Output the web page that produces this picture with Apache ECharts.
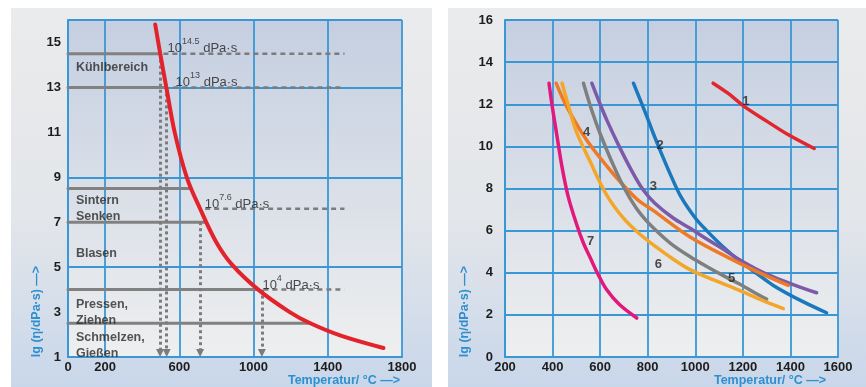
<!DOCTYPE html>
<html lang="de">
<head>
<meta charset="UTF-8">
<title>Viskosität von Gläsern</title>
<style>
  html, body { margin: 0; padding: 0; width: 100%; height: 100%; overflow: hidden; background: #fff; }
  #chart { width: 866px; height: 387px; }
</style>
<script src="https://cdn.jsdelivr.net/npm/echarts@6.0.0/dist/echarts.min.js"></script>
</head>
<body>
<div id="chart"></div>
<script>
// ---- linkes Diagramm: Viskosität eines Kalk-Natron-Glases ----
const kurveT  = [470, 497, 530, 575, 640, 712, 800, 885, 1025, 1195, 1306, 1470, 1700];
const kurveLg = [15.8, 14.5, 13, 11, 9, 7.6, 6.1, 5.1, 4, 3, 2.5, 1.95, 1.4];

// graue Bereichsgrenzen (von 0 °C bis zur Kurve)
const bereichLg   = [14.5, 13, 8.5, 7, 4, 2.5];
const bereichEndT = [487, 532, 654, 734, 1027, 1306];

// gestrichelte Bezugslinien
const bezugLg     = [14.5, 13, 7.6, 4];
const bezugStartT = [514, 568, 739, 1053];
const bezugEndT   = 1490;
const bezugExp    = ['14.5', '13', '7.6', '4'];
const bezugTextT  = [534, 577, 734, 1045];
const bezugTextLg = [14.85, 13.35, 7.9, 4.3];

// Pfeile nach unten
const pfeilT   = [496, 532, 712, 1045];
const pfeilTop = [14.5, 13, 7, 4];

const bereichNamen = ['Kühlbereich', 'Sintern\nSenken', 'Blasen', 'Pressen,\nZiehen', 'Schmelzen,\nGießen'];
const bereichTextLg = [13.9, 7.6, 5.6, 3.0, 1.5];

const linksXTicks = [0, 200, 600, 1000, 1400, 1800];

// ---- rechtes Diagramm: Gläser 1 bis 7 ----
const glas1T = [1075, 1140, 1205, 1300, 1384, 1500];
const glas1Lg = [13, 12.5, 11.9, 11.2, 10.6, 9.9];
const glas2T = [740, 790, 824, 860, 898, 940, 1000, 1048, 1120, 1188, 1260, 1328, 1440, 1552];
const glas2Lg = [13, 11.6, 10.6, 9.6, 8.6, 7.6, 6.6, 6.0, 5.2, 4.55, 3.95, 3.4, 2.7, 2.1];
const glas3T = [565, 600, 630, 680, 730, 780, 830, 907, 980, 1048, 1120, 1188, 1260, 1328, 1420, 1510];
const glas3Lg = [13, 12.0, 11.2, 10.0, 8.9, 7.95, 7.3, 6.6, 6.1, 5.6, 5.1, 4.6, 4.15, 3.8, 3.4, 3.05];
const glas4T = [415, 459, 543, 655, 754, 824, 978, 1160, 1280, 1391];
const glas4Lg = [13, 11.9, 10.3, 8.7, 7.5, 6.95, 5.7, 4.6, 3.95, 3.4];
const glas5T = [530, 565, 600, 650, 700, 750, 800, 850, 907, 980, 1048, 1120, 1188, 1250, 1300];
const glas5Lg = [13, 11.7, 10.6, 9.25, 8.05, 7.1, 6.4, 5.85, 5.3, 4.75, 4.3, 3.85, 3.45, 3.05, 2.75];
const glas6T = [440, 470, 500, 557, 627, 697, 760, 838, 900, 978, 1080, 1188, 1280, 1370];
const glas6Lg = [13, 11.8, 10.7, 9.3, 7.7, 6.6, 5.9, 5.2, 4.7, 4.15, 3.65, 3.15, 2.7, 2.3];
const glas7T = [385, 400, 417, 440, 466, 501, 530, 557, 590, 627, 680, 754];
const glas7Lg = [13, 11.8, 10.6, 9.0, 7.6, 6.3, 5.4, 4.75, 3.95, 3.2, 2.5, 1.85];

const glasFarben = ['#e0262e', '#1b78bd', '#7d5aa8', '#ee7a25', '#7f7f7f', '#f4a62a', '#e2197c'];
const glasNummerT  = [1213, 852, 824, 543, 1153, 845, 560];
const glasNummerLg = [12.12, 10.06, 8.08, 10.65, 3.73, 4.4, 5.47];

const blau = '#3a97d6';
const schrift = "'Liberation Sans', Arial, sans-serif";
const yName = 'lg (η/dPa·s) —>';
const xName = 'Temperatur/ °C —>';

const chart = echarts.init(document.getElementById('chart'));

const plotBg = {
  type: 'linear', x: 0, y: 0, x2: 0, y2: 1,
  colorStops: [{ offset: 0, color: '#c5cfe1' }, { offset: 1, color: '#eeefef' }]
};
const panelBg = {
  type: 'linear', x: 0, y: 0, x2: 0, y2: 1,
  colorStops: [{ offset: 0, color: '#eaebec' }, { offset: 0.55, color: '#e3e6ea' }, { offset: 1, color: '#c9d7ea' }]
};

function linie(xi, t, lg, color, width, type) {
  return {
    type: 'line', xAxisIndex: xi, yAxisIndex: xi, silent: true,
    data: t.map((x, i) => [x, lg[i]]),
    symbol: 'none', smooth: 0.35,
    lineStyle: { color: color, width: width, type: type || 'solid', cap: 'round' },
    z: 5
  };
}

const series = [];

// graue Bereichslinien
bereichLg.forEach((v, i) => {
  const s = linie(0, [0, bereichEndT[i]], [v, v], '#818181', 3);
  s.smooth = false; s.z = 3;
  series.push(s);
});
// gestrichelte Bezugslinien
bezugLg.forEach((v, i) => {
  const s = linie(0, [bezugStartT[i], bezugEndT], [v, v], '#7c7c7c', 2.5, [5, 4]);
  s.smooth = false; s.z = 3; s.lineStyle.cap = 'butt';
  series.push(s);
});
// Pfeile
series.push({
  type: 'line', xAxisIndex: 0, yAxisIndex: 0, data: [], silent: true,
  markLine: {
    silent: true, symbol: ['none', 'triangle'], symbolSize: 8,
    label: { show: false },
    lineStyle: { color: '#7c7c7c', width: 3, type: [3, 3] },
    data: pfeilT.map((t, i) => [{ coord: [t, pfeilTop[i]] }, { coord: [t, 1.18] }])
  }
});
// Viskositätskurve
series.push(linie(0, kurveT, kurveLg, '#e3232c', 4));
// Beschriftung Bezugslinien
series.push({
  type: 'scatter', xAxisIndex: 0, yAxisIndex: 0, silent: true,
  symbolSize: 1, itemStyle: { color: 'rgba(0,0,0,0)' },
  data: bezugTextT.map((t, i) => ({ value: [t, bezugTextLg[i]], name: bezugExp[i] })),
  label: {
    show: true, position: 'right', distance: 0,
    formatter: p => '{b|10}{s|' + p.name + '}{b| dPa·s}',
    rich: {
      b: { fontFamily: schrift, fontSize: 13, color: '#222', lineHeight: 18, verticalAlign: 'bottom' },
      s: { fontFamily: schrift, fontSize: 9, color: '#222', lineHeight: 10, verticalAlign: 'top' }
    }
  },
  z: 6
});
// Bereichsnamen
series.push({
  type: 'scatter', xAxisIndex: 0, yAxisIndex: 0, silent: true,
  symbolSize: 1, itemStyle: { color: 'rgba(0,0,0,0)' },
  data: bereichNamen.map((n, i) => ({ value: [40, bereichTextLg[i]], name: n })),
  label: {
    show: true, position: 'right', distance: 0, formatter: p => p.name,
    fontFamily: schrift, fontSize: 12.5, fontWeight: 'bold', color: '#2a2a2a', lineHeight: 16
  },
  z: 6
});

// rechte Kurven
const glasT = [glas1T, glas2T, glas3T, glas4T, glas5T, glas6T, glas7T];
const glasLg = [glas1Lg, glas2Lg, glas3Lg, glas4Lg, glas5Lg, glas6Lg, glas7Lg];
glasT.forEach((t, i) => series.push(linie(1, t, glasLg[i], glasFarben[i], 3.5)));
series.push({
  type: 'scatter', xAxisIndex: 1, yAxisIndex: 1, silent: true,
  symbolSize: 1, itemStyle: { color: 'rgba(0,0,0,0)' },
  data: glasNummerT.map((t, i) => ({ value: [t, glasNummerLg[i]], name: String(i + 1) })),
  label: {
    show: true, position: 'inside', formatter: p => p.name,
    fontFamily: schrift, fontSize: 13, fontWeight: 'bold', color: '#222'
  },
  z: 7
});

const tickLabel = { fontFamily: schrift, fontSize: 13, fontWeight: 'bold', color: '#1d1d1d' };
const nameStyle = { fontFamily: schrift, fontSize: 12.5, fontWeight: 'bold', color: '#2f8fd0' };

const option = {
  animation: false,
  graphic: [
    { type: 'rect', left: 11, top: 8, shape: { width: 421, height: 379 }, style: { fill: panelBg }, z: -10 },
    { type: 'rect', left: 448, top: 8, shape: { width: 418, height: 379 }, style: { fill: panelBg }, z: -10 }
  ],
  grid: [
    { left: 68, top: 20, width: 334, height: 337, show: true, backgroundColor: plotBg, borderWidth: 0, outerBoundsMode: 'none', containLabel: false },
    { left: 505, top: 20, width: 333, height: 337, show: true, backgroundColor: plotBg, borderWidth: 0, outerBoundsMode: 'none', containLabel: false }
  ],
  xAxis: [
    {
      type: 'value', gridIndex: 0, min: 0, max: 1800, interval: 200,
      name: xName, nameLocation: 'middle', nameGap: 17, nameMoveOverlap: false,
      nameTextStyle: Object.assign({ padding: [0, 0, 0, 218] }, nameStyle),
      axisLine: { lineStyle: { color: blau, width: 2 } },
      axisTick: { show: false },
      axisLabel: Object.assign({ margin: 4, formatter: v => linksXTicks.includes(v) ? String(v) : '' }, tickLabel),
      splitLine: { lineStyle: { color: ['rgba(0,0,0,0)', blau], width: 1.8 } }
    },
    {
      type: 'value', gridIndex: 1, min: 200, max: 1600, interval: 200,
      name: xName, nameLocation: 'middle', nameGap: 17, nameMoveOverlap: false,
      nameTextStyle: Object.assign({ padding: [0, 0, 0, 197] }, nameStyle),
      axisLine: { lineStyle: { color: blau, width: 2 } },
      axisTick: { show: false },
      axisLabel: Object.assign({ margin: 4, formatter: v => String(v) }, tickLabel),
      splitLine: { lineStyle: { color: blau, width: 1.8 } }
    }
  ],
  yAxis: [
    {
      type: 'value', gridIndex: 0, min: 1, max: 16, interval: 2,
      name: yName, nameLocation: 'middle', nameGap: 25, nameMoveOverlap: false,
      nameTextStyle: Object.assign({ padding: [0, 246, 0, 0] }, nameStyle),
      axisLine: { show: true, lineStyle: { color: blau, width: 2 } },
      axisTick: { show: false },
      axisLabel: Object.assign({ margin: 7, showMaxLabel: false }, tickLabel),
      splitLine: { lineStyle: { color: [blau, 'rgba(0,0,0,0)'], width: 1.8 } }
    },
    {
      type: 'value', gridIndex: 1, min: 0, max: 16, interval: 2,
      name: yName, nameLocation: 'middle', nameGap: 34, nameMoveOverlap: false,
      nameTextStyle: Object.assign({ padding: [0, 246, 0, 0] }, nameStyle),
      axisLine: { show: true, lineStyle: { color: blau, width: 2 } },
      axisTick: { show: false },
      axisLabel: Object.assign({ margin: 12 }, tickLabel),
      splitLine: { lineStyle: { color: blau, width: 1.8 } }
    }
  ],
  series: series
};

chart.setOption(option);
</script>
</body>
</html>
